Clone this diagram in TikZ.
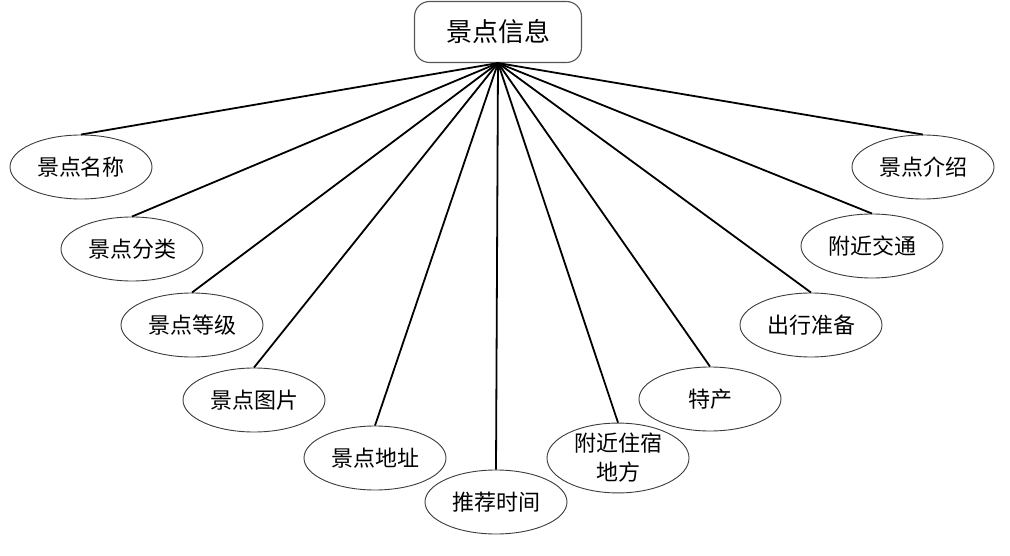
\documentclass[tikz,border=0pt]{standalone}
\usepackage{fontspec}
\newfontfamily\cjk{Noto Sans CJK SC}
\usepackage{xcolor}
\definecolor{edgeInk}{HTML}{000000}
\definecolor{boxInk}{HTML}{555555}
\usepackage{tikz}
\usetikzlibrary{positioning, shapes.geometric}

\begin{document}
\begin{tikzpicture}[
  x=1pt, y=-1pt,
  every node/.style={font=\cjk\fontsize{22}{26}\selectfont},
  topic/.style={rectangle, draw=boxInk, line width=1.1pt, rounded corners=15pt,
               minimum width=167pt, minimum height=61pt, fill=white,
               font=\cjk\fontsize{26}{30}\selectfont},
  attr/.style={ellipse, draw=boxInk!70!black, line width=0.9pt,
               minimum width=142pt, minimum height=64pt, inner sep=0pt,
               align=center, fill=white},
  link/.style={line width=1.8pt, color=edgeInk},
]
\useasboundingbox (0,0) rectangle (1010,556);

% Entity box
\node[topic] (info) at (498,32) {景点信息};

% Attributes, left side
\node[attr] (name)  at (81,167)  {景点名称};
\node[attr] (kind)  at (132,249) {景点分类};
\node[attr] (grade) at (192,325) {景点等级};
\node[attr] (photo) at (254,400) {景点图片};
\node[attr] (addr)  at (375,458) {景点地址};

% Attribute, bottom
\node[attr] (time)  at (496,502) {推荐时间};

% Attributes, right side
\node[attr] (hotel) at (618,458) {附近住宿\\[3pt]地方};
\node[attr] (local) at (710,399) {特产};
\node[attr] (prep)  at (811,325) {出行准备};
\node[attr] (trans) at (872,246) {附近交通};
\node[attr] (intro) at (923,167) {景点介绍};

% Links
\foreach \a in {name,kind,grade,photo,addr,time,hotel,local,prep,trans,intro}
  \draw[link] (info.south) -- (\a.north);

\end{tikzpicture}
\end{document}
